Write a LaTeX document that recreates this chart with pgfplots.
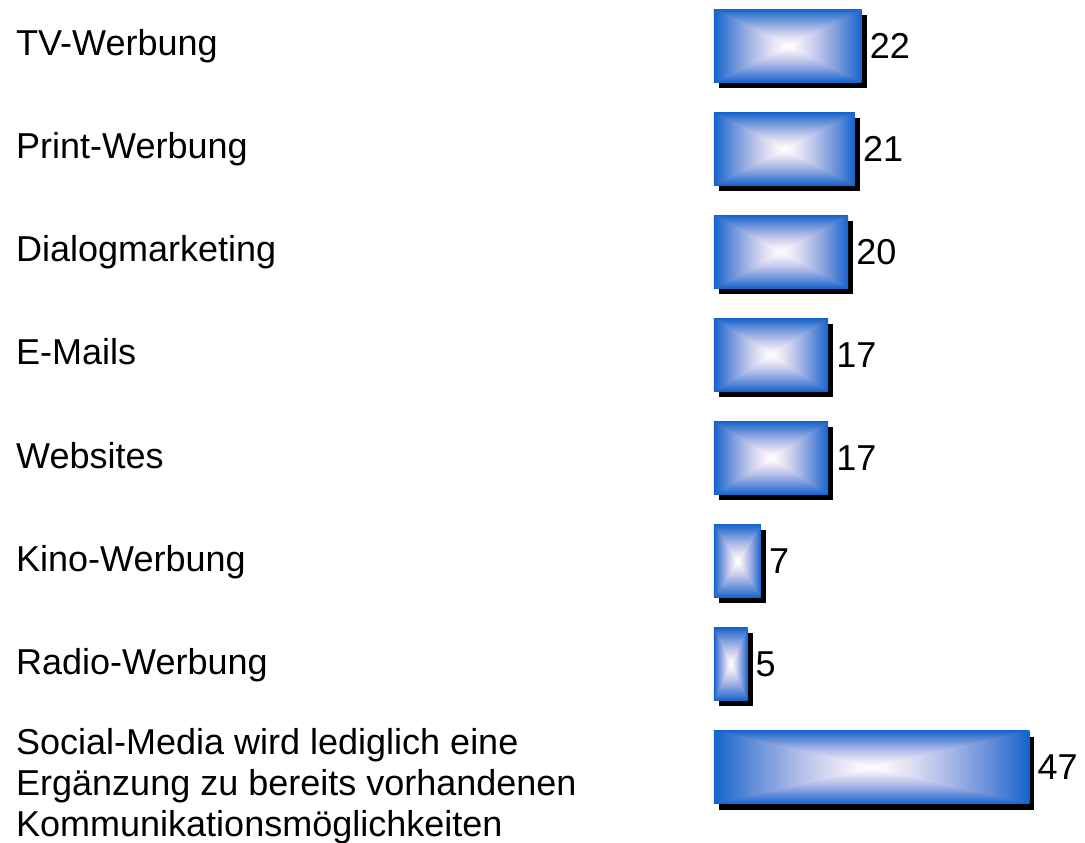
\documentclass[border=0pt]{standalone}
\usepackage{pgfplots}
\pgfplotsset{compat=1.18}
\usepackage{fontspec}
\setmainfont{Liberation Sans}

% blue frame fading to white in the middle (bar fills the 25..75 square)
\pgfdeclarefunctionalshading{boxshade}{\pgfpoint{0bp}{0bp}}{\pgfpoint{100bp}{100bp}}{}{
  50 sub abs exch 50 sub abs 2 copy lt {exch} if pop 25 div
  dup 1 gt {pop 1} if
  dup 1.4 exp 0.92 mul 1 exch sub
  exch dup 1.1 exp 0.61 mul 1 exch sub
  exch 0.2 mul 1 exch sub
}

\pgfplotsset{
  boxbar/.style={xbar, bar shift=0pt, bar width=73pt, draw=none, fill=none,
    preaction={fill=black, draw=none, transform canvas={xshift=5pt, yshift=-6pt}},
    postaction={shade, shading=boxshade},
    nodes near coords, nodes near coords align=horizontal},
}

\begin{document}
\begin{tikzpicture}
\useasboundingbox (0,0) rectangle (1085pt,843pt);
\begin{axis}[
  at={(714pt,797.4pt)}, anchor=origin,
  x=6.71pt, y=103.06pt, y dir=reverse,
  xmin=0, xmax=50, ymin=-0.5, ymax=7.5,
  clip=false,
  axis line style={draw=none},
  tick style={draw=none},
  xtick=\empty,
  ytick={0,...,6},
  yticklabels={TV-Werbung, Print-Werbung, Dialogmarketing, E-Mails, Websites, Kino-Werbung, Radio-Werbung},
  extra y ticks={7},
  extra y tick labels={{Social-Media wird lediglich eine\\Ergänzung zu bereits vorhandenen\\Kommunikationsmöglichkeiten}},
  extra y tick style={yticklabel style={yshift=-16pt}},
  typeset ticklabels with strut,
  yticklabel style={anchor=west, inner sep=0pt, xshift=-698pt, yshift=-2pt, align=left,
    font=\fontsize{36pt}{41pt}\selectfont},
  /pgf/number format/assume math mode=true,
  every node near coord/.append style={anchor=west, inner sep=0pt, xshift=8pt,
    text=black, font=\fontsize{36pt}{41pt}\selectfont},
]
\addplot[boxbar] coordinates {(22,0)};
\addplot[boxbar] coordinates {(21,1)};
\addplot[boxbar] coordinates {(20,2)};
\addplot[boxbar] coordinates {(17,3)};
\addplot[boxbar] coordinates {(17,4)};
\addplot[boxbar] coordinates {(7,5)};
\addplot[boxbar] coordinates {(5,6)};
\addplot[boxbar] coordinates {(47,7)};
\end{axis}
\end{tikzpicture}
\end{document}
